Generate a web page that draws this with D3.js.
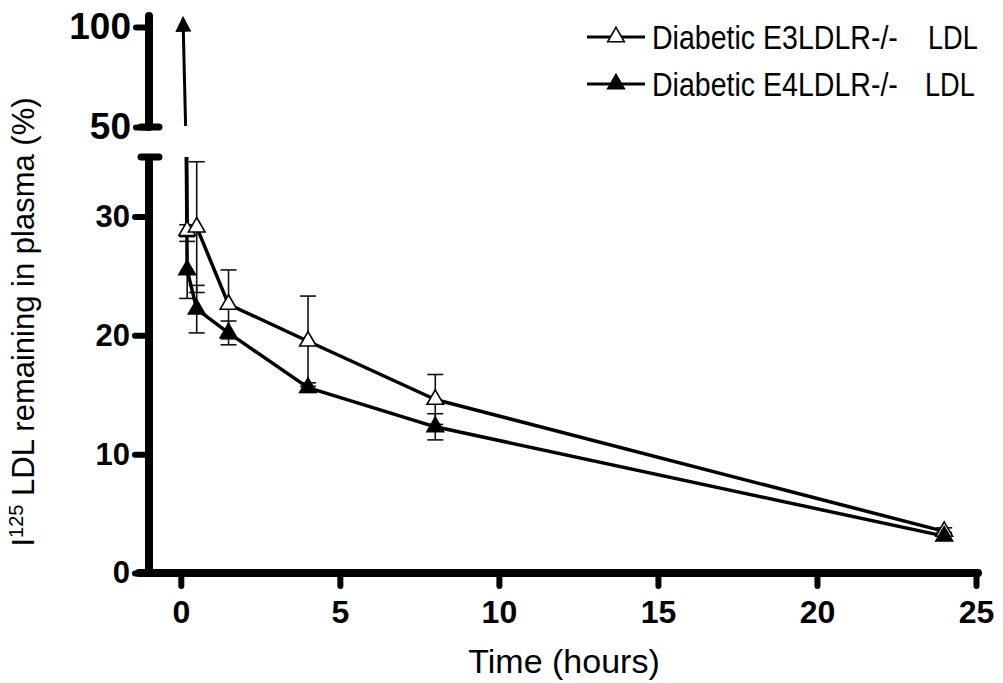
<!DOCTYPE html>
<html>
<head>
<meta charset="utf-8">
<script src="https://cdn.jsdelivr.net/npm/d3@7"></script>
<style>
  body { margin: 0; background: #fff; }
  svg text { font-family: "Liberation Sans", Arial, sans-serif; fill: #000; }
  .axis text { font-weight: bold; }
</style>
</head>
<body>
<div id="chart"></div>
<script>
// Data
var hours      = [0, 0.2, 0.5, 1.5, 4, 8, 24];
var e3Values   = [100, 28.8, 29.1, 22.6, 19.5, 14.6, 3.5];
var e3Errors   = [0, 0.5, 5.5, 2.9, 3.8, 2.1, 0.3];
var e4Values   = [100, 25.5, 22.2, 20.2, 15.6, 12.3, 3.1];
var e4Errors   = [0, 2.4, 2.0, 1.0, 0.4, 1.1, 0.3];
var seriesNames = ["Diabetic E3LDLR-/-", "Diabetic E4LDLR-/-"];
var seriesSuffix = "LDL";
var xTicks     = [0, 5, 10, 15, 20, 25];
var yLowTicks  = [0, 10, 20, 30];
var yHighTicks = [50, 100];

(function() {
  var width = 1003, height = 683;

  var series = [
    { name: seriesNames[0], fill: "#fff", values: e3Values, errors: e3Errors },
    { name: seriesNames[1], fill: "#000", values: e4Values, errors: e4Errors }
  ];
  series.forEach(function(s) {
    s.points = hours.map(function(h, i) {
      return { t: h, v: s.values[i], e: s.errors[i] };
    });
  });

  // Scales: broken y axis, lower 0-35 and upper 50-100
  var x     = d3.scaleLinear().domain([-1, 25]).range([149, 976]);
  var yLow  = d3.scaleLinear().domain([0, 35]).range([573, 157]);
  var yHigh = d3.scaleLinear().domain([50, 100]).range([127, 27]);
  var axisX = x(-1);

  var svg = d3.select("#chart").append("svg")
      .attr("width", width)
      .attr("height", height);

  var defs = svg.append("defs");
  defs.append("clipPath").attr("id", "low")
    .append("rect")
      .attr("x", axisX).attr("y", yLow.range()[1])
      .attr("width", width - axisX).attr("height", yLow.range()[0] - yLow.range()[1] + 10);

  // X axis
  var xAxis = svg.append("g")
      .attr("class", "axis")
      .attr("transform", "translate(0," + yLow(0) + ")")
      .call(d3.axisBottom(x).tickValues(xTicks).tickSize(13).tickPadding(14).tickSizeOuter(0));
  xAxis.select(".domain").remove();
  xAxis.selectAll(".tick line").attr("stroke", "#000").attr("stroke-width", 6).attr("stroke-linecap", "round");
  xAxis.selectAll(".tick text").style("font-size", "32px");
  xAxis.append("line")
      .attr("x1", axisX - 10).attr("x2", x(25) + 2)
      .attr("stroke", "#000").attr("stroke-width", 8).attr("stroke-linecap", "round");

  // Lower y axis
  var yAxisLow = svg.append("g")
      .attr("class", "axis")
      .attr("transform", "translate(" + axisX + ",0)")
      .call(d3.axisLeft(yLow).tickValues(yLowTicks).tickSize(14).tickPadding(5).tickSizeOuter(0));
  yAxisLow.select(".domain").remove();
  yAxisLow.selectAll(".tick line").attr("stroke", "#000").attr("stroke-width", 6).attr("stroke-linecap", "round");
  yAxisLow.selectAll(".tick text").style("font-size", "31px");
  yAxisLow.append("line")
      .attr("y1", yLow(0)).attr("y2", yLow.range()[1])
      .attr("stroke", "#000").attr("stroke-width", 8);
  yAxisLow.append("line")
      .attr("x1", -8).attr("x2", 10)
      .attr("y1", yLow.range()[1]).attr("y2", yLow.range()[1])
      .attr("stroke", "#000").attr("stroke-width", 7).attr("stroke-linecap", "round");

  // Upper y axis
  var yAxisHigh = svg.append("g")
      .attr("class", "axis")
      .attr("transform", "translate(" + axisX + ",0)")
      .call(d3.axisLeft(yHigh).tickValues(yHighTicks).tickSize(13).tickPadding(5).tickSizeOuter(0));
  yAxisHigh.select(".domain").remove();
  yAxisHigh.selectAll(".tick line").attr("stroke", "#000").attr("stroke-width", 6).attr("stroke-linecap", "round");
  yAxisHigh.selectAll(".tick text").style("font-size", "37px");
  yAxisHigh.append("line")
      .attr("y1", yHigh(50)).attr("y2", yHigh(100) - 11)
      .attr("stroke", "#000").attr("stroke-width", 8).attr("stroke-linecap", "round");
  yAxisHigh.append("line")
      .attr("x1", -8).attr("x2", 10)
      .attr("y1", yHigh(50)).attr("y2", yHigh(50))
      .attr("stroke", "#000").attr("stroke-width", 7).attr("stroke-linecap", "round");

  // Arrow in upper segment (initial 100%)
  defs.append("marker")
      .attr("id", "head")
      .attr("viewBox", "0 0 10 10")
      .attr("refX", 8).attr("refY", 5)
      .attr("markerUnits", "userSpaceOnUse")
      .attr("markerWidth", 16).attr("markerHeight", 17)
      .attr("orient", "auto")
    .append("path").attr("d", "M0,0L10,5L0,10z").attr("fill", "#000");
  svg.append("line")
      .attr("x1", x(0.15)).attr("y1", yHigh(50.5))
      .attr("x2", x(0.07)).attr("y2", yHigh(104))
      .attr("stroke", "#000").attr("stroke-width", 3)
      .attr("marker-end", "url(#head)");

  // Data
  var plot = svg.append("g").attr("clip-path", "url(#low)");
  var line = d3.line()
      .x(function(d) { return x(d.t); })
      .y(function(d) { return yLow(d.v); });
  var symbol = d3.symbol().type(d3.symbolTriangle).size(120);

  // error bars
  series.forEach(function(s) {
    var bars = plot.append("g")
        .attr("stroke", "#111").attr("stroke-width", 1.6)
      .selectAll("g")
        .data(s.points.filter(function(d) { return d.e > 0; }))
      .enter().append("g");
    bars.append("line")
        .attr("x1", function(d) { return x(d.t); })
        .attr("x2", function(d) { return x(d.t); })
        .attr("y1", function(d) { return yLow(d.v - d.e); })
        .attr("y2", function(d) { return yLow(d.v + d.e); });
    [-1, 1].forEach(function(sign) {
      bars.append("line")
          .attr("x1", function(d) { return x(d.t) - 8; })
          .attr("x2", function(d) { return x(d.t) + 8; })
          .attr("y1", function(d) { return yLow(d.v + sign * d.e); })
          .attr("y2", function(d) { return yLow(d.v + sign * d.e); });
    });
  });

  series.forEach(function(s) {
    plot.append("path")
        .datum(s.points)
        .attr("d", line)
        .attr("fill", "none")
        .attr("stroke", "#000")
        .attr("stroke-width", 3.5)
        .attr("stroke-linejoin", "round");
  });

  series.forEach(function(s) {
    plot.append("g").selectAll("path")
        .data(s.points.filter(function(d) { return d.t > 0; }))
      .enter().append("path")
        .attr("d", symbol)
        .attr("transform", function(d) { return "translate(" + x(d.t) + "," + yLow(d.v) + ")"; })
        .attr("fill", s.fill)
        .attr("stroke", "#000")
        .attr("stroke-width", 1.6);
  });

  // Legend (condensed lettering as in the original)
  var legend = svg.append("g").attr("transform", "translate(587,37)");
  var rows = legend.selectAll("g")
      .data(series)
    .enter().append("g")
      .attr("transform", function(d, i) { return "translate(0," + i * 47 + ")"; });
  rows.append("line")
      .attr("x1", 0).attr("x2", 58)
      .attr("stroke", "#000").attr("stroke-width", 3);
  rows.append("path")
      .attr("d", symbol)
      .attr("transform", "translate(29,0)")
      .attr("fill", function(d) { return d.fill; })
      .attr("stroke", "#000").attr("stroke-width", 1.6);
  rows.append("text")
      .attr("transform", "translate(65,12) scale(0.84,1)")
      .style("font-size", "34px")
      .text(function(d) { return d.name; });
  rows.append("text")
      .attr("transform", function(d, i) { return "translate(" + (i ? 338 : 341) + ",12) scale(0.8,1)"; })
      .style("font-size", "34px")
      .text(seriesSuffix);

  // Axis titles
  svg.append("text")
      .attr("x", 564).attr("y", 673)
      .attr("text-anchor", "middle")
      .style("font-size", "34px")
      .text("Time (hours)");

  var ylab = svg.append("text")
      .attr("transform", "translate(34,322) rotate(-90)")
      .attr("text-anchor", "middle")
      .style("font-size", "31px");
  ylab.append("tspan").text("I");
  ylab.append("tspan").attr("baseline-shift", "super").style("font-size", "20px").text("125");
  ylab.append("tspan").text(" LDL remaining in plasma (%)");
})();
</script>
</body>
</html>
